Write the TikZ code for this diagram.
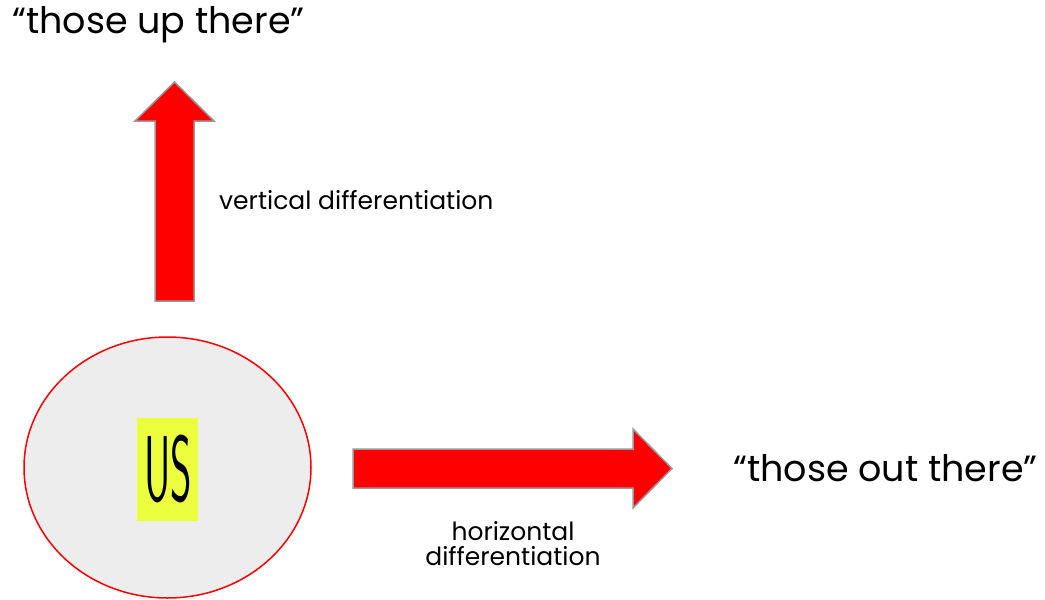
\documentclass[tikz,border=0pt]{standalone}
\usepackage{fontspec}
\usetikzlibrary{shapes.geometric}
\setmainfont{Poppins}
\begin{document}
\begin{tikzpicture}[x=1pt,y=-1pt,
  bigarrow/.style={fill=red,draw=black!40,line width=1.5pt,line join=miter},
  label/.style={inner sep=0pt,font=\fontsize{25}{25}\selectfont},
  biglabel/.style={inner sep=0pt,font=\fontsize{36.5}{40}\selectfont}]
\useasboundingbox (0,0) rectangle (1045,600);
% ellipse
\node[draw=red,fill=black!7,line width=1.5pt,ellipse,minimum width=287pt,minimum height=261pt,inner sep=0pt] (us) at (167.5,467.5) {};
\node[fill={rgb,255:red,236;green,255;blue,63},minimum width=61pt,minimum height=103pt,inner sep=0pt] (usbox) at (167.5,469.5) {};
\node[inner sep=0pt] (ustext) at (168,469) {\sffamily\scalebox{0.62}[1.42]{\fontsize{66}{66}\selectfont US}};
% vertical arrow
\draw[bigarrow] (155,301) -- (155,121) -- (135,121) -- (174.5,82) -- (214,121) -- (194,121) -- (194,301) -- cycle;
% horizontal arrow
\draw[bigarrow] (353,449) -- (633,449) -- (633,429) -- (672,468.5) -- (633,508) -- (633,488) -- (353,488) -- cycle;
% texts
\node[biglabel,anchor=base west] (up) at (12,33) {“those up there”};
\node[biglabel,anchor=base west] (out) at (733,481) {“those out there”};
\node[label,anchor=base west] (vert) at (219,209) {vertical differentiation};
\node[label,align=center] (horiz) at (513,544) {horizontal\\differentiation};
\end{tikzpicture}
\end{document}
